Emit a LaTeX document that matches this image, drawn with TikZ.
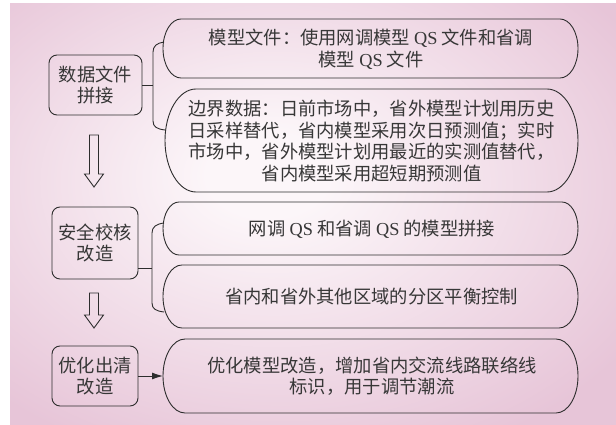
\documentclass[tikz,border=0pt]{standalone}
\usepackage{fontspec}
\setmainfont{Liberation Serif}
\newfontfamily\cjk{Noto Sans CJK SC}
\usetikzlibrary{arrows.meta}
\definecolor{bgpink}{RGB}{231,197,216}
\definecolor{bglight}{RGB}{252,246,249}
\definecolor{ink}{RGB}{45,45,45}
\definecolor{txtc}{RGB}{55,55,55}
\pgfdeclareradialshading{bgshade}{\pgfpoint{-4bp}{5bp}}{color(0bp)=(bglight); color(5bp)=(bglight); color(34bp)=(bgpink); color(80bp)=(bgpink)}
\newcommand\ovalbox[5]{%
 \draw[outl] ({#1+#5},#2) -- ({#3-#5},#2)
  .. controls ({#3-0.4477*#5},#2) and (#3,{(#2+#4)/2-0.5523*(#4-#2)/2}) .. (#3,{(#2+#4)/2})
  .. controls (#3,{(#2+#4)/2+0.5523*(#4-#2)/2}) and ({#3-0.4477*#5},#4) .. ({#3-#5},#4)
  -- ({#1+#5},#4)
  .. controls ({#1+0.4477*#5},#4) and (#1,{(#2+#4)/2+0.5523*(#4-#2)/2}) .. (#1,{(#2+#4)/2})
  .. controls (#1,{(#2+#4)/2-0.5523*(#4-#2)/2}) and ({#1+0.4477*#5},#2) .. cycle;}
\tikzset{
 outl/.style={draw=ink, line width=0.9pt},
 txt/.style={text=txtc, align=center, inner sep=0pt, font=\cjk\fontsize{18.3}{21.5}\selectfont},
 lbox/.style={txt, draw=ink, line width=0.9pt, rounded corners=8pt},
 conn/.style={draw=ink, line width=0.9pt},
 hollow/.style={draw=ink, line width=0.9pt, line join=miter}
}
\begin{document}
\begin{tikzpicture}[x=1pt,y=-1pt]
\useasboundingbox (0,0) rectangle (616,425);
\shade[shading=bgshade] (10,4) rectangle (616,425);

% left boxes
\node[lbox, minimum width=93pt, minimum height=60pt] (A) at (95.5,85) {数据文件\\拼接};
\node[lbox, minimum width=86pt, minimum height=72pt] (B) at (95,243) {安全校核\\改造};
\node[lbox, minimum width=86pt, minimum height=60pt] (C) at (95,376) {优化出清\\改造};

% right oval boxes
\ovalbox{163}{19}{578}{78}{18}
\ovalbox{165}{89}{578}{192}{31}
\ovalbox{163}{202}{578}{255}{16}
\ovalbox{163}{265}{578}{328}{19}
\ovalbox{163}{339}{578}{413}{22}

\node[txt] (t1) at (371,49) {模型文件：使用网调模型 {\rmfamily QS} 文件和省调\\模型 {\rmfamily QS} 文件};
\node[txt] (t2) at (371.5,141) {边界数据：日前市场中，省外模型计划用历史\\日采样替代，省内模型采用次日预测值；实时\\市场中，省外模型计划用最近的实测值替代，\\省内模型采用超短期预测值};
\node[txt] (t3) at (372,229) {网调 {\rmfamily QS} 和省调 {\rmfamily QS} 的模型拼接};
\node[txt] (t4) at (371.5,297) {省内和省外其他区域的分区平衡控制};
\node[txt] (t5) at (372,376) {优化模型改造，增加省内交流线路联络线\\标识，用于调节潮流};

% braces
\coordinate (b1t) at (164,42);
\coordinate (b1m) at (153,85);
\coordinate (b1b) at (165,130);
\draw[conn] (b1t) .. controls (157,43) and (153,46) .. (153,52) -- (153,121) .. controls (153,127) and (157,129) .. (b1b);
\draw[conn] (A.east |- b1m) -- (b1m);

\coordinate (b2t) at (164,223);
\coordinate (b2m) at (152,268);
\coordinate (b2b) at (164,312);
\draw[conn] (b2t) .. controls (156,224) and (152,227) .. (152,233) -- (152,303) .. controls (152,309) and (156,311) .. (b2b);
\draw[conn] (B.east |- b2m) -- (b2m);

% arrow C -> box5
\coordinate (e5) at (163,376);
\draw[conn, -{Latex[length=11pt,width=7pt]}] (C.east) -- (e5);

% hollow arrows
\draw[hollow] (89.5,135) -- (98.5,135) -- (98.5,174) -- (103.5,174) -- (94,187) -- (84.5,174) -- (89.5,174) -- cycle;
\draw[hollow] (89.5,293) -- (98.5,293) -- (98.5,315) -- (103.5,315) -- (94,328) -- (84.5,315) -- (89.5,315) -- cycle;
\end{tikzpicture}
\end{document}
